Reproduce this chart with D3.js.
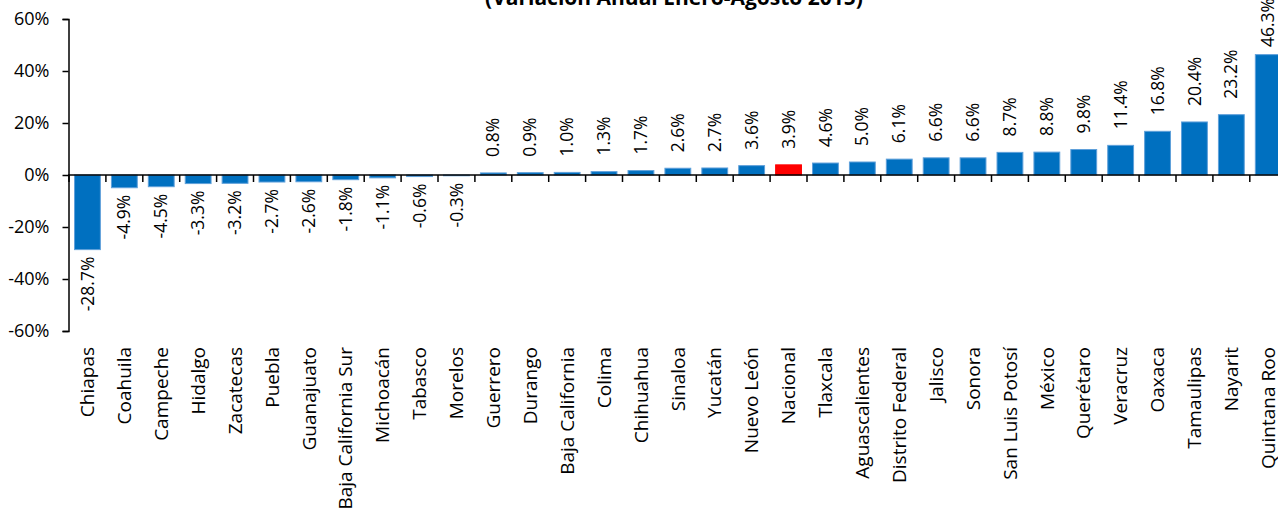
<!DOCTYPE html>
<html>
<head>
<meta charset="utf-8">
<script src="https://cdn.jsdelivr.net/npm/d3@7"></script>
<style>
  body { margin: 0; background: #fff; }
  text { font-family: "Open Sans", sans-serif; }
</style>
</head>
<body>
<div id="chart"></div>
<script>
// chart size
const w = 1278;
const h = 518;

// data
const estados = ["Chiapas", "Coahuila", "Campeche", "Hidalgo", "Zacatecas", "Puebla",
  "Guanajuato", "Baja California Sur", "Michoacán", "Tabasco", "Morelos", "Guerrero",
  "Durango", "Baja California", "Colima", "Chihuahua", "Sinaloa", "Yucatán", "Nuevo León",
  "Nacional", "Tlaxcala", "Aguascalientes", "Distrito Federal", "Jalisco", "Sonora",
  "San Luis Potosí", "México", "Querétaro", "Veracruz", "Oaxaca", "Tamaulipas", "Nayarit",
  "Quintana Roo"];
const variacion = [-28.7, -4.9, -4.5, -3.3, -3.2, -2.7, -2.6, -1.8, -1.1, -0.6, -0.3, 0.8,
  0.9, 1.0, 1.3, 1.7, 2.6, 2.7, 3.6, 3.9, 4.6, 5.0, 6.1, 6.6, 6.6, 8.7, 8.8, 9.8, 11.4,
  16.8, 20.4, 23.2, 46.3];
const yTicks = [-60, -40, -20, 0, 20, 40, 60];
const titulo = "(Variación Anual Enero-Agosto 2015)";

const dataset = estados.map((d, i) => ({estado: d, valor: variacion[i]}));

const svg = d3.select("div#chart")
  .append("svg")
    .attr("width", w)
    .attr("height", h);

// scales
const xScale = d3.scaleBand()
  .domain(estados)
  .range([69, 69 + 33 * 36.9])
  .paddingInner(0.3)
  .paddingOuter(0.15);

const yScale = d3.scaleLinear()
  .domain([-60, 60])
  .range([331, 19]);

// title (top line is cut off in the original)
svg.append("text")
  .attr("x", 674)
  .attr("y", 5)
  .attr("text-anchor", "middle")
  .attr("font-weight", "bold")
  .attr("font-size", 21)
  .text(titulo);

// bars
svg.selectAll("rect.bar")
  .data(dataset)
  .enter()
  .append("rect")
    .attr("class", "bar")
    .attr("x", d => xScale(d.estado))
    .attr("width", xScale.bandwidth())
    .attr("y", d => yScale(Math.max(0, d.valor)))
    .attr("height", d => Math.abs(yScale(d.valor) - yScale(0)))
    .attr("fill", d => d.estado == "Nacional" ? "#FF0000" : "#0070C0")
    .attr("stroke", d => d.estado == "Nacional" ? "#FF0000" : "#5FA0DA")
    .attr("stroke-width", 1);

// y axis
const yAxis = d3.axisLeft(yScale)
  .tickValues(yTicks)
  .tickSize(6)
  .tickFormat(d => d + "%");

const gy = svg.append("g")
  .attr("transform", "translate(68.5, 0)")
  .call(yAxis);
gy.select(".domain").attr("stroke", "#000").attr("stroke-width", 1.5);
gy.selectAll(".tick line").attr("stroke", "#000").attr("stroke-width", 1.5);
gy.selectAll(".tick text")
  .attr("x", -19)
  .attr("font-size", 18)
  .attr("font-family", "Open Sans, sans-serif")
  .attr("fill", "#000");

// x axis line at zero
svg.append("line")
  .attr("x1", 68)
  .attr("x2", w)
  .attr("y1", yScale(0))
  .attr("y2", yScale(0))
  .attr("stroke", "#000")
  .attr("stroke-width", 1.5);

// x ticks between categories
const half = (xScale.step() - xScale.bandwidth()) / 2;
svg.selectAll("line.xtick")
  .data(estados)
  .enter()
  .append("line")
    .attr("class", "xtick")
    .attr("x1", d => xScale(d) - half)
    .attr("x2", d => xScale(d) - half)
    .attr("y1", yScale(0))
    .attr("y2", yScale(0) + 7)
    .attr("stroke", "#000")
    .attr("stroke-width", 1.5);

// value labels
svg.selectAll("text.valor")
  .data(dataset)
  .enter()
  .append("text")
    .attr("class", "valor")
    .attr("font-size", 17.5)
    .attr("text-anchor", d => d.valor < 0 ? "end" : "start")
    .attr("dy", "0.35em")
    .attr("transform", d => {
      const cx = xScale(d.estado) + xScale.bandwidth() / 2;
      const cy = d.valor < 0 ? yScale(d.valor) + 7 : Math.max(yScale(d.valor) - 16, 47);
      return `translate(${cx}, ${cy}) rotate(-90)`;
    })
    .text(d => d.valor.toFixed(1) + "%");

// category labels
svg.selectAll("text.estado")
  .data(dataset)
  .enter()
  .append("text")
    .attr("class", "estado")
    .attr("font-size", 19)
    .attr("text-anchor", "end")
    .attr("dy", "0.35em")
    .attr("transform", d => `translate(${xScale(d.estado) + xScale.bandwidth() / 2}, 347) rotate(-90)`)
    .text(d => d.estado);
</script>
</body>
</html>
